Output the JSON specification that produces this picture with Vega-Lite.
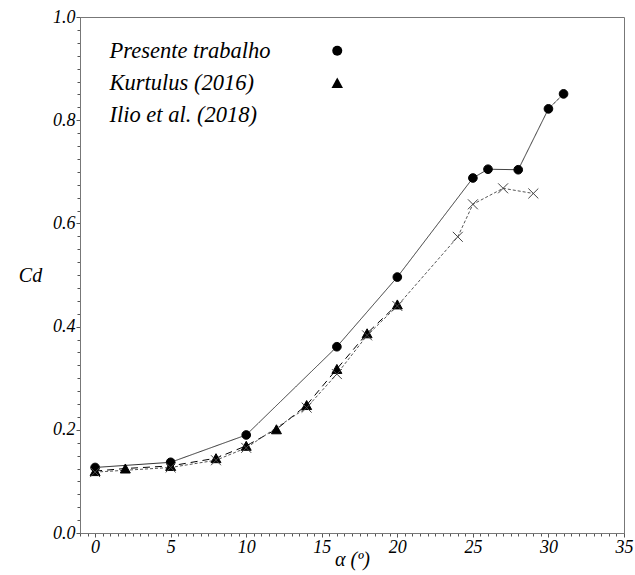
{
  "$schema": "https://vega.github.io/schema/vega-lite/v6.json",
  "width": 544,
  "height": 516,
  "autosize": {"type": "none"},
  "padding": {"left": 80, "top": 17, "right": 11, "bottom": 42},
  "background": "white",
  "config": {
    "view": {"stroke": "#777", "strokeWidth": 1},
    "font": "Liberation Serif"
  },
  "data": {
    "values": [
      {"series": "Presente trabalho", "alpha": 0, "cd": 0.127},
      {"series": "Presente trabalho", "alpha": 5, "cd": 0.137},
      {"series": "Presente trabalho", "alpha": 10, "cd": 0.19},
      {"series": "Presente trabalho", "alpha": 16, "cd": 0.361},
      {"series": "Presente trabalho", "alpha": 20, "cd": 0.496},
      {"series": "Presente trabalho", "alpha": 25, "cd": 0.688},
      {"series": "Presente trabalho", "alpha": 26, "cd": 0.705},
      {"series": "Presente trabalho", "alpha": 28, "cd": 0.704},
      {"series": "Presente trabalho", "alpha": 30, "cd": 0.822},
      {"series": "Presente trabalho", "alpha": 31, "cd": 0.851},
      {"series": "Kurtulus (2016)", "alpha": 0, "cd": 0.12},
      {"series": "Kurtulus (2016)", "alpha": 2, "cd": 0.125},
      {"series": "Kurtulus (2016)", "alpha": 5, "cd": 0.13},
      {"series": "Kurtulus (2016)", "alpha": 8, "cd": 0.145},
      {"series": "Kurtulus (2016)", "alpha": 10, "cd": 0.169},
      {"series": "Kurtulus (2016)", "alpha": 12, "cd": 0.201},
      {"series": "Kurtulus (2016)", "alpha": 14, "cd": 0.248},
      {"series": "Kurtulus (2016)", "alpha": 16, "cd": 0.318},
      {"series": "Kurtulus (2016)", "alpha": 18, "cd": 0.387},
      {"series": "Kurtulus (2016)", "alpha": 20, "cd": 0.443},
      {"series": "Ilio et al. (2018)", "alpha": 0, "cd": 0.118},
      {"series": "Ilio et al. (2018)", "alpha": 5, "cd": 0.127},
      {"series": "Ilio et al. (2018)", "alpha": 8, "cd": 0.141},
      {"series": "Ilio et al. (2018)", "alpha": 10, "cd": 0.165},
      {"series": "Ilio et al. (2018)", "alpha": 14, "cd": 0.243},
      {"series": "Ilio et al. (2018)", "alpha": 16, "cd": 0.308},
      {"series": "Ilio et al. (2018)", "alpha": 18, "cd": 0.383},
      {"series": "Ilio et al. (2018)", "alpha": 20, "cd": 0.44},
      {"series": "Ilio et al. (2018)", "alpha": 24, "cd": 0.574},
      {"series": "Ilio et al. (2018)", "alpha": 25, "cd": 0.637},
      {"series": "Ilio et al. (2018)", "alpha": 27, "cd": 0.668},
      {"series": "Ilio et al. (2018)", "alpha": 29, "cd": 0.658}
    ]
  },
  "encoding": {
    "x": {
      "field": "alpha", "type": "quantitative",
      "scale": {"domain": [-1, 35], "nice": false, "zero": false},
      "axis": {
        "values": [-1,-0.5,0,0.5,1,1.5,2,2.5,3,3.5,4,4.5,5,5.5,6,6.5,7,7.5,8,8.5,9,9.5,10,10.5,11,11.5,12,12.5,13,13.5,14,14.5,15,15.5,16,16.5,17,17.5,18,18.5,19,19.5,20,20.5,21,21.5,22,22.5,23,23.5,24,24.5,25,25.5,26,26.5,27,27.5,28,28.5,29,29.5,30,30.5,31,31.5,32,32.5,33,33.5,34,34.5,35],
        "labelExpr": "datum.value % 5 == 0 ? format(datum.value, 'd') : ''",
        "labelOverlap": false,
        "labelBound": false,
        "labelFlush": false,
        "labelFont": "Liberation Serif",
        "labelFontSize": 18,
        "labelFontStyle": "italic",
        "labelColor": "black",
        "labelPadding": 1,
        "tickSize": {"condition": {"test": "datum.value % 5 == 0", "value": 4}, "value": 3},
        "tickColor": "#555",
        "domainColor": "#777",
        "grid": false,
        "title": "α (º)",
        "titleFont": "Liberation Serif",
        "titleFontSize": 20,
        "titleFontStyle": "italic",
        "titleFontWeight": "normal",
        "titleColor": "black",
        "titleBaseline": "middle",
        "titleY": 26,
        "titleX": 272
      }
    },
    "y": {
      "field": "cd", "type": "quantitative",
      "scale": {"domain": [0, 1], "nice": false},
      "axis": {
        "values": [0,0.025,0.05,0.075,0.1,0.125,0.15,0.175,0.2,0.225,0.25,0.275,0.3,0.325,0.35,0.375,0.4,0.425,0.45,0.475,0.5,0.525,0.55,0.575,0.6,0.625,0.65,0.675,0.7,0.725,0.75,0.775,0.8,0.825,0.85,0.875,0.9,0.925,0.95,0.975,1],
        "labelExpr": "abs(datum.value*5 - round(datum.value*5)) < 0.001 ? format(datum.value, '.1f') : ''",
        "labelOverlap": false,
        "labelBound": false,
        "labelFlush": false,
        "labelFont": "Liberation Serif",
        "labelFontSize": 18,
        "labelFontStyle": "italic",
        "labelColor": "black",
        "labelPadding": 1,
        "tickSize": {"condition": {"test": "abs(datum.value*5 - round(datum.value*5)) < 0.001", "value": 4}, "value": 3},
        "tickColor": "#555",
        "domainColor": "#777",
        "grid": false,
        "title": "Cd",
        "titleFont": "Liberation Serif",
        "titleAngle": 0,
        "titleAlign": "center",
        "titleBaseline": "middle",
        "titleX": -50,
        "titleY": 258,
        "titleFontSize": 20,
        "titleFontStyle": "italic",
        "titleFontWeight": "normal",
        "titleColor": "black"
      }
    }
  },
  "layer": [
    {
      "mark": {"type": "line", "strokeWidth": 1},
      "encoding": {
        "color": {
          "field": "series", "type": "nominal",
          "scale": {"domain": ["Ilio et al. (2018)", "Kurtulus (2016)", "Presente trabalho"], "range": ["#555555", "#000000", "#333333"]},
          "legend": null
        },
        "strokeDash": {
          "field": "series", "type": "nominal",
          "scale": {"domain": ["Kurtulus (2016)", "Ilio et al. (2018)", "Presente trabalho"], "range": [[7, 5], [3, 2], [1, 0]]},
          "legend": null
        }
      }
    },
    {
      "mark": {"type": "point", "filled": true, "color": "black", "strokeWidth": 1, "opacity": 1, "size": 75},
      "encoding": {
        "stroke": {
          "field": "series", "type": "nominal",
          "scale": {"domain": ["Ilio et al. (2018)", "Presente trabalho", "Kurtulus (2016)"], "range": ["#444444", "#000000", "#000000"]},
          "legend": null
        },
        "shape": {
          "field": "series", "type": "nominal",
          "scale": {"domain": ["Presente trabalho", "Kurtulus (2016)", "Ilio et al. (2018)"], "range": ["circle", "M0,-1.04L1.15,1.04L-1.15,1.04Z", "M-1.15,-1.15L1.15,1.15M-1.15,1.15L1.15,-1.15"]},
          "legend": {
            "title": null,
            "orient": "none",
            "legendX": 185,
            "legendY": 22.5,
            "symbolSize": 100,
            "symbolOffset": 61,
            "symbolStrokeWidth": 1,
            "symbolStrokeColor": "black",
            "symbolFillColor": "black",
            "labelFont": "Liberation Serif",
            "labelFontStyle": "italic",
            "labelFontSize": 22.5,
            "labelColor": "black",
            "labelAlign": "left",
            "labelOffset": -239,
            "labelLimit": 0,
            "rowPadding": 9
          }
        }
      }
    }
  ]
}
